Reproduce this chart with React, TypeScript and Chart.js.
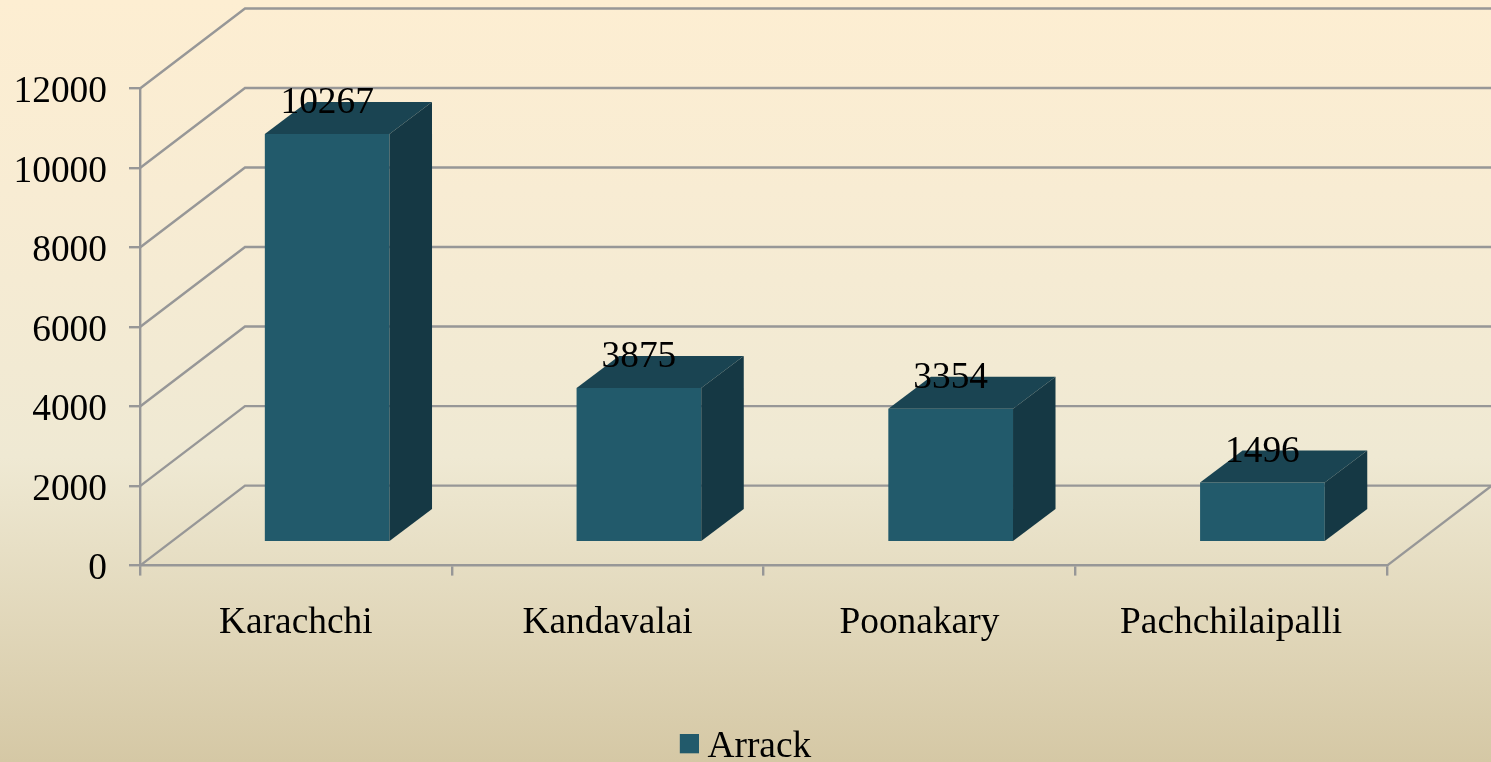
import React, { useEffect, useRef } from "react";
import { Chart, registerables } from "chart.js";

Chart.register(...registerables);

const categories = ["Karachchi", "Kandavalai", "Poonakary", "Pachchilaipalli"];
const arrackValues = [10267, 3875, 3354, 1496];
const seriesName = "Arrack";

const FONT = "'Liberation Serif', 'Times New Roman', serif";
const FONT_SIZE = 37.4;
const WALL_DX = 105;
const WALL_DY = 80;
const BAR_DX = 31.3;
const BAR_DY = 23.5;
const DEPTH_X = 42.5;
const DEPTH_Y = 32;
const GRID = "#979797";
const LINE_W = 2.4;
const FRONT = "#225a6b";
const TOP = "#1a4452";
const SIDE = "#153844";

function legendSwatch() {
  const c = document.createElement("canvas");
  c.width = 21;
  c.height = 26;
  const g = c.getContext("2d") as CanvasRenderingContext2D;
  g.fillStyle = FRONT;
  g.fillRect(2, 0, 19, 19);
  return c;
}

const walls3d = {
  id: "walls3d",
  afterLayout(chart: any) {
    chart.legend.left += 56;
    chart.legend.right += 56;
    chart.legend.top += 14;
    chart.legend.bottom += 14;
  },
  beforeDraw(chart: any) {
    chart.scales.y.getLabelItems().forEach((item: any) => {
      item.options.translation[1] += 4;
    });
  },
  beforeDatasetsDraw(chart: any) {
    const { ctx, scales } = chart;
    const y = scales.y;
    const x = scales.x;
    const left = x.left;
    const right = x.right;
    ctx.save();
    ctx.strokeStyle = GRID;
    ctx.lineWidth = LINE_W;
    y.ticks.forEach((t: any) => {
      const py = y.getPixelForValue(t.value);
      ctx.beginPath();
      ctx.moveTo(left, py);
      ctx.lineTo(left + WALL_DX, py - WALL_DY);
      ctx.lineTo(chart.width, py - WALL_DY);
      ctx.stroke();
    });
    const py0 = y.getPixelForValue(0);
    ctx.beginPath();
    ctx.moveTo(right, py0);
    ctx.lineTo(right + WALL_DX, py0 - WALL_DY);
    ctx.stroke();
    ctx.restore();
    ctx.save();
    ctx.translate(BAR_DX, -BAR_DY);
  },
  afterDatasetsDraw(chart: any) {
    const { ctx } = chart;
    const meta = chart.getDatasetMeta(0);
    meta.data.forEach((bar: any) => {
      const r = bar.x + bar.width / 2;
      const l = bar.x - bar.width / 2;
      const t = bar.y;
      const b = bar.base;
      ctx.fillStyle = TOP;
      ctx.beginPath();
      ctx.moveTo(l, t);
      ctx.lineTo(l + DEPTH_X, t - DEPTH_Y);
      ctx.lineTo(r + DEPTH_X, t - DEPTH_Y);
      ctx.lineTo(r, t);
      ctx.closePath();
      ctx.fill();
      ctx.fillStyle = SIDE;
      ctx.beginPath();
      ctx.moveTo(r, t);
      ctx.lineTo(r + DEPTH_X, t - DEPTH_Y);
      ctx.lineTo(r + DEPTH_X, b - DEPTH_Y);
      ctx.lineTo(r, b);
      ctx.closePath();
      ctx.fill();
    });
    ctx.restore();
    ctx.save();
    ctx.font = `${FONT_SIZE}px ${FONT}`;
    ctx.fillStyle = "#000000";
    ctx.textAlign = "center";
    ctx.textBaseline = "alphabetic";
    meta.data.forEach((bar: any, i: number) => {
      ctx.fillText(String(arrackValues[i]), bar.x + BAR_DX, bar.y - BAR_DY - 21);
    });
    ctx.restore();
  },
};

export default function App() {
  const ref = useRef<HTMLCanvasElement>(null);
  useEffect(() => {
    document.body.style.margin = "0";
    const chart = new Chart(ref.current as HTMLCanvasElement, {
      type: "bar",
      data: {
        labels: categories,
        datasets: [
          {
            label: seriesName,
            data: arrackValues,
            backgroundColor: FRONT,
            barPercentage: 0.4,
            categoryPercentage: 1,
            clip: false,
          } as any,
        ],
      },
      options: {
        responsive: false,
        animation: false,
        layout: { padding: { top: 88.5, right: 104, left: 0, bottom: 0 } },
        plugins: {
          tooltip: { enabled: false },
          legend: {
            position: "bottom",
            labels: {
              color: "#000000",
              font: { family: FONT, size: FONT_SIZE },
              usePointStyle: true,
              pointStyle: legendSwatch() as any,
              boxWidth: 1,
              boxHeight: 19,
              padding: 0,
            },
          },
        },
        scales: {
          x: {
            offset: true,
            afterFit(s: any) {
              s.height = 149;
            },
            grid: { drawOnChartArea: false, drawTicks: true, tickLength: 10, color: GRID, lineWidth: LINE_W, offset: true },
            border: { display: true, color: GRID, width: LINE_W },
            ticks: { color: "#000000", font: { family: FONT, size: FONT_SIZE }, padding: 25, maxRotation: 0 },
          },
          y: {
            min: 0,
            max: 12000,
            afterFit(s: any) {
              s.width = 140;
            },
            grid: { drawOnChartArea: false, drawTicks: true, tickLength: 11, color: GRID, lineWidth: LINE_W },
            border: { display: true, color: GRID, width: LINE_W },
            ticks: {
              stepSize: 2000,
              color: "#000000",
              font: { family: FONT, size: FONT_SIZE },
              padding: 22,
              callback: (v: any) => String(v),
            },
          },
        },
      },
      plugins: [walls3d],
    });
    return () => chart.destroy();
  }, []);
  return (
    <div
      style={{
        width: 1491,
        height: 762,
        background: "linear-gradient(180deg, #fdeed2 0%, #f8ecd3 25%, #efe9d3 60%, #d5c8a5 100%)",
      }}
    >
      <canvas ref={ref} width={1491} height={762} style={{ display: "block" }} />
    </div>
  );
}
